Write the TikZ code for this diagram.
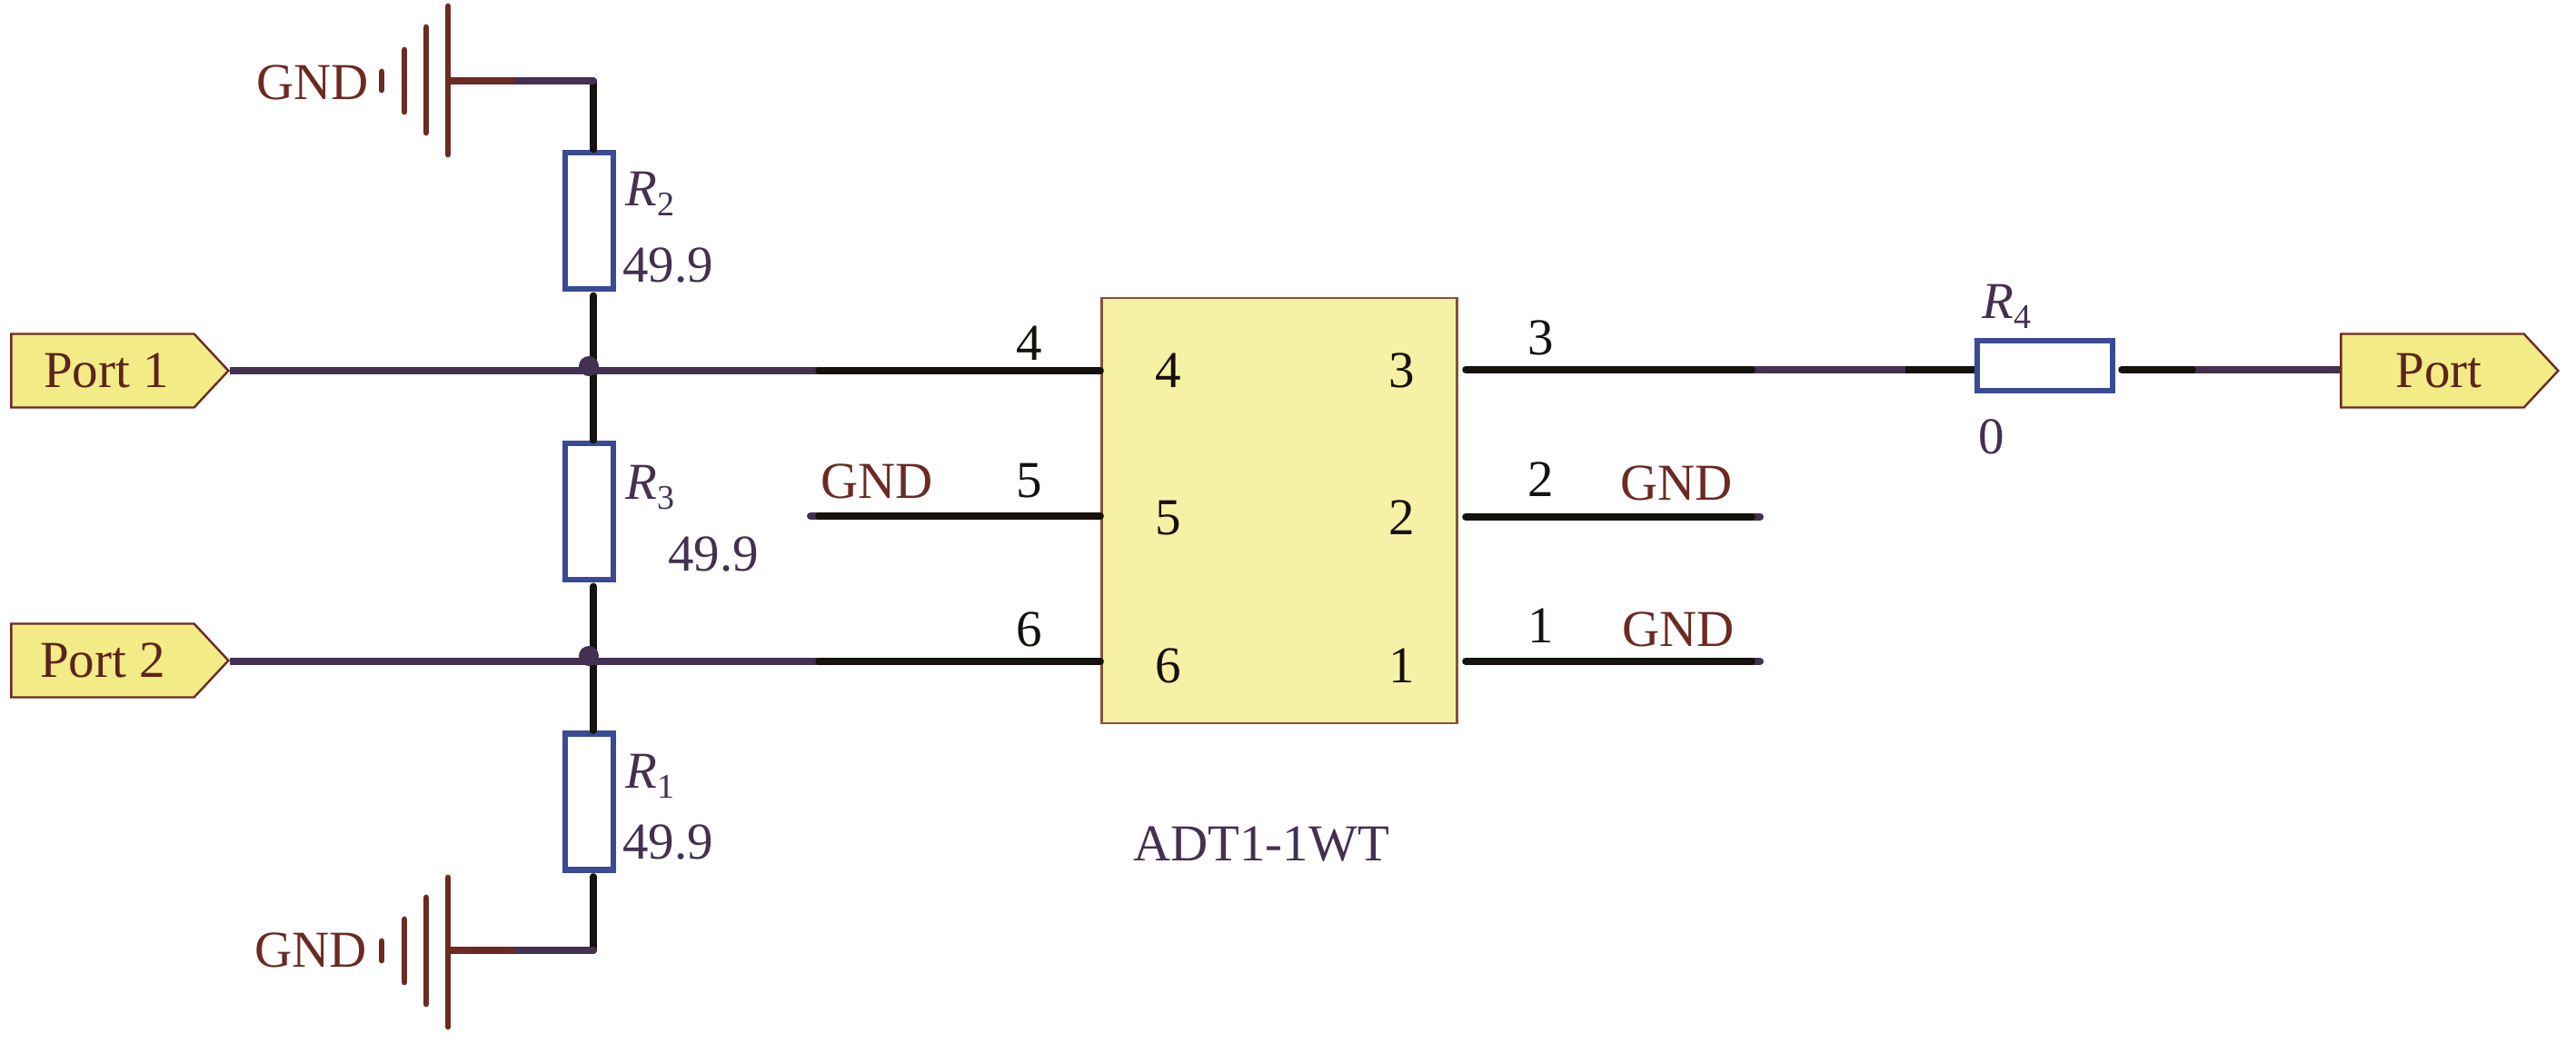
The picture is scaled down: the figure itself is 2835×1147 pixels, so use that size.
\documentclass[tikz,border=0pt]{standalone}
\usepackage{fontspec}
\setmainfont{Liberation Serif}
\usepackage{tikz}
\usetikzlibrary{positioning, shapes.symbols}
\definecolor{netpurple}{HTML}{443050}
\definecolor{pinblack}{HTML}{15110C}
\definecolor{gndbrown}{HTML}{6B2A22}
\definecolor{resblue}{HTML}{3A4A94}
\definecolor{chipyellow}{HTML}{F6F1A4}
\definecolor{portyellow}{HTML}{F3EB85}
\newcommand{\rname}[1]{\textit{R}\raisebox{-5.5pt}{\fontsize{19pt}{20pt}\selectfont #1}}
\tikzset{
    x=0.5pt, y=-0.5pt, % one unit is one pixel of the picture
    every node/.style={font=\fontsize{28.5pt}{30pt}\selectfont, inner sep=0pt},
    netwire/.style={draw=netpurple, line width=4pt}, % the long nets
    pinwire/.style={draw=pinblack, line width=3.8pt, line cap=round}, % the short pin stubs
    gndwire/.style={draw=gndbrown, line width=3.8pt},
    plate/.style={draw=gndbrown, line width=3.4pt, line cap=round},
    resistor/.style={rectangle, draw=resblue, fill=white, line width=3.4pt},
    vres/.style={resistor, minimum width=26.5pt, minimum height=75pt},
    port/.style={signal, signal to=east, signal pointer angle=94, draw=gndbrown, fill=portyellow, line width=1.2pt, minimum width=119.5pt, minimum height=40.5pt, text=gndbrown!85!black},
    chip/.style={rectangle, draw=gndbrown!80!chipyellow, fill=chipyellow, line width=1.4pt, minimum width=195.5pt, minimum height=234pt},
    gndtext/.style={anchor=base west, text=gndbrown},
    valtext/.style={anchor=base west, text=netpurple},
    pintext/.style={anchor=base, text=pinblack},
    junction/.style={circle, fill=netpurple, minimum size=11pt},
}
\begin{document}
\begin{tikzpicture}
    \useasboundingbox (0,0) rectangle (2835,1147);

    \node[vres] (r2) at (648.5,243) {};
    \node[vres] (r3) at (648.5,563) {};
    \node[vres] (r1) at (648.5,882.5) {};
    \node[resistor, minimum width=74.5pt, minimum height=27.5pt] (r4) at (2250.5,402.5) {};
    \node[chip] (u1) at (1408,562) {};
    \node[port] (port1) at (113,408) {\hspace*{4pt}Port 1};
    \node[port] (port2) at (113,727) {Port 2};
    \node[port] (port3) at (2677,408) {\hspace*{7pt}Port};

    % the ground symbols
    \draw[plate] (493,7) -- (493,170);
    \draw[plate] (469,30) -- (469,146);
    \draw[plate] (445,55) -- (445,123);
    \draw[plate] (420,79) -- (420,99);
    \draw[plate] (493,966) -- (493,1130);
    \draw[plate] (469,988) -- (469,1105);
    \draw[plate] (445,1012) -- (445,1081);
    \draw[plate] (420,1036) -- (420,1057);

    \coordinate (gt0) at (493,89);
    \coordinate (gt1) at (570,89);
    \coordinate (gt2) at (653,89);
    \coordinate (gb0) at (493,1046);
    \coordinate (gb1) at (570,1046);
    \coordinate (gb2) at (653,1046);

    % the vertical chain
    \draw[pinwire] (gt2) -- (r2.north -| gt2);
    \draw[pinwire, shorten <=2pt] (r2.south -| gt2) -- (r3.north -| gt2);
    \draw[pinwire, shorten <=2pt] (r3.south -| gt2) -- (r1.north -| gt2);
    \draw[pinwire, shorten <=2pt] (r1.south -| gt2) -- (gb2);
    \draw[gndwire] (gt0) -- (gt1);
    \draw[netwire, line cap=round] (gt1) -- (gt2);
    \draw[gndwire] (gb0) -- (gb1);
    \draw[netwire, line cap=round] (gb1) -- (gb2);

    % left side nets
    \coordinate (m4) at (901,408);
    \coordinate (m5) at (901,568);
    \coordinate (m6) at (901,728);
    \coordinate (e5) at (892,568);
    \draw[netwire] (port1.east |- m4) -- (m4);
    \draw[pinwire] (m4) -- (u1.west |- m4);
    \draw[netwire, line cap=round] (e5) -- (m5);
    \draw[pinwire] (m5) -- (u1.west |- m5);
    \draw[netwire] (port2.east |- m6) -- (m6);
    \draw[pinwire] (m6) -- (u1.west |- m6);
    \node[junction] (j1) at (648,403) {};
    \node[junction] (j2) at (648,722) {};

    % right side nets
    \coordinate (s3) at (1613,407);
    \coordinate (s2) at (1613,569);
    \coordinate (s1) at (1613,728);
    \coordinate (t3) at (1928,407);
    \coordinate (t2) at (1928,569);
    \coordinate (t1) at (1928,728);
    \coordinate (e2) at (1937,569);
    \coordinate (e1) at (1937,728);
    \coordinate (v3) at (2097,407);
    \coordinate (v4) at (2335,407);
    \coordinate (v5) at (2413,407);
    \draw[netwire] (t3) -- (v3);
    \draw[netwire, line cap=round] (t2) -- (e2);
    \draw[netwire, line cap=round] (t1) -- (e1);
    \draw[pinwire] (s3) -- (t3);
    \draw[pinwire] (s2) -- (t2);
    \draw[pinwire] (s1) -- (t1);
    \draw[pinwire, line cap=butt] (v3) -- (r4.west |- v3);
    \draw[netwire] (v5) -- (port3.west |- v5);
    \draw[pinwire] (v4) -- (v5);

    % labels
    \node[gndtext] (gnd1) at (282,109) {GND};
    \node[gndtext] (gnd2) at (280,1064) {GND};
    \node[gndtext] (gnd3) at (903,548) {GND};
    \node[gndtext] (gnd4) at (1783,550) {GND};
    \node[gndtext] (gnd5) at (1785,711) {GND};
    \node[valtext] (r2-name) at (688,226) {\rname{2}};
    \node[valtext] (r2-val) at (685,310) {49.9};
    \node[valtext] (r3-name) at (688,549) {\rname{3}};
    \node[valtext] (r3-val) at (735,628) {49.9};
    \node[valtext] (r1-name) at (688,867) {\rname{1}};
    \node[valtext] (r1-val) at (685,945) {49.9};
    \node[valtext] (r4-name) at (2181,350) {\rname{4}};
    \node[valtext] (r4-val) at (2177,499) {0};
    \node[valtext, anchor=base] (u1-name) at (1388,947) {ADT1-1WT};

    \node[pintext] (in4) at (1286,426) {4};
    \node[pintext] (in5) at (1286,588) {5};
    \node[pintext] (in6) at (1286,751) {6};
    \node[pintext] (in3) at (1543,426) {3};
    \node[pintext] (in2) at (1543,588) {2};
    \node[pintext] (in1) at (1543,751) {1};
    \node[pintext] (out4) at (1133,396) {4};
    \node[pintext] (out5) at (1133,547) {5};
    \node[pintext] (out6) at (1133,711) {6};
    \node[pintext] (out3) at (1696,390) {3};
    \node[pintext] (out2) at (1696,546) {2};
    \node[pintext] (out1) at (1696,707) {1};
\end{tikzpicture}
\end{document}
